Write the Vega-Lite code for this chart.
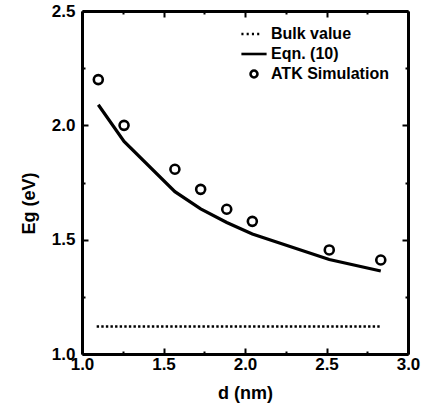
{
  "$schema": "https://vega.github.io/schema/vega-lite/v6.json",
  "width": 326,
  "height": 343,
  "autosize": {"type": "none"},
  "padding": {"left": 82, "top": 11, "right": 20, "bottom": 59},
  "background": "white",
  "config": {
    "view": {"stroke": null},
    "font": "Liberation Sans",
    "axis": {
      "domainColor": "black",
      "domainWidth": 3,
      "tickColor": "black",
      "tickWidth": 2,
      "grid": false,
      "labelFont": "Liberation Sans",
      "labelFontWeight": "bold",
      "labelFontSize": 17,
      "labelColor": "black",
      "labelFlush": false,
      "labelOverlap": false,
      "titleFont": "Liberation Sans",
      "titleFontWeight": "bold",
      "titleFontSize": 18,
      "titleColor": "black"
    },
    "legend": {
      "labelFont": "Liberation Sans",
      "labelFontWeight": "bold",
      "labelFontSize": 16,
      "labelColor": "black",
      "symbolStrokeWidth": 2.6,
      "symbolStrokeColor": "black",
      "symbolFillColor": "transparent",
      "symbolSize": 441,
      "rowPadding": 0,
      "labelOffset": 5
    }
  },
  "datasets": {
    "bulk": [
      {"d": 1.09, "Eg": 1.12, "series": "Bulk value"},
      {"d": 2.83, "Eg": 1.12, "series": "Bulk value"}
    ],
    "eqn": [
      {"d": 1.1, "Eg": 2.09, "series": "Eqn. (10)"},
      {"d": 1.258, "Eg": 1.93, "series": "Eqn. (10)"},
      {"d": 1.57, "Eg": 1.71, "series": "Eqn. (10)"},
      {"d": 1.728, "Eg": 1.635, "series": "Eqn. (10)"},
      {"d": 1.888, "Eg": 1.575, "series": "Eqn. (10)"},
      {"d": 2.045, "Eg": 1.525, "series": "Eqn. (10)"},
      {"d": 2.517, "Eg": 1.413, "series": "Eqn. (10)"},
      {"d": 2.833, "Eg": 1.363, "series": "Eqn. (10)"}
    ],
    "atk": [
      {"d": 1.1, "Eg": 2.2, "series": "ATK Simulation"},
      {"d": 1.258, "Eg": 2.0, "series": "ATK Simulation"},
      {"d": 1.57, "Eg": 1.808, "series": "ATK Simulation"},
      {"d": 1.728, "Eg": 1.72, "series": "ATK Simulation"},
      {"d": 1.888, "Eg": 1.633, "series": "ATK Simulation"},
      {"d": 2.045, "Eg": 1.58, "series": "ATK Simulation"},
      {"d": 2.517, "Eg": 1.455, "series": "ATK Simulation"},
      {"d": 2.833, "Eg": 1.411, "series": "ATK Simulation"}
    ]
  },
  "layer": [
    {
      "data": {"name": "bulk"},
      "mark": {"type": "line", "color": "black", "strokeWidth": 2.6, "strokeDash": [2.4, 2.2]},
      "encoding": {
        "x": {
          "field": "d", "type": "quantitative",
          "scale": {"domain": [1, 3], "nice": false, "zero": false},
          "axis": {
            "orient": "bottom",
            "title": "d (nm)",
            "values": [1, 1.25, 1.5, 1.75, 2, 2.25, 2.5, 2.75, 3],
            "format": ".1f",
            "labelExpr": "datum.value % 0.5 == 0 ? datum.label : ''",
            "tickSize": {"condition": {"test": "datum.value % 0.5 == 0", "value": -6}, "value": -3},
            "labelPadding": 8,
            "titlePadding": 9
          }
        },
        "y": {
          "field": "Eg", "type": "quantitative",
          "scale": {"domain": [1, 2.5], "nice": false, "zero": false},
          "axis": {
            "orient": "left",
            "title": "Eg (eV)",
            "values": [1, 1.25, 1.5, 1.75, 2, 2.25, 2.5],
            "format": ".1f",
            "labelExpr": "datum.value % 0.5 == 0 ? datum.label : ''",
            "tickSize": {"condition": {"test": "datum.value % 0.5 == 0", "value": -6}, "value": -3},
            "labelPadding": 13,
            "titlePadding": 13,
            "titleY": 192
          }
        }
      }
    },
    {
      "data": {"name": "eqn"},
      "mark": {"type": "line", "color": "black", "strokeWidth": 3.2},
      "encoding": {
        "x": {
          "field": "d", "type": "quantitative",
          "scale": {"domain": [1, 3], "nice": false, "zero": false},
          "axis": {
            "orient": "top",
            "title": null,
            "values": [1, 1.25, 1.5, 1.75, 2, 2.25, 2.5, 2.75, 3],
            "labels": false,
            "tickSize": {"condition": {"test": "datum.value % 0.5 == 0", "value": -6}, "value": -3}
          }
        },
        "y": {
          "field": "Eg", "type": "quantitative",
          "scale": {"domain": [1, 2.5], "nice": false, "zero": false},
          "axis": {
            "orient": "right",
            "title": null,
            "values": [1, 1.25, 1.5, 1.75, 2, 2.25, 2.5],
            "labels": false,
            "tickSize": {"condition": {"test": "datum.value % 0.5 == 0", "value": -6}, "value": -3}
          }
        }
      }
    },
    {
      "data": {"name": "atk"},
      "mark": {"type": "point", "filled": false, "color": "black", "strokeWidth": 2.6, "size": 744, "opacity": 1},
      "encoding": {
        "x": {"field": "d", "type": "quantitative", "axis": null},
        "y": {"field": "Eg", "type": "quantitative", "axis": null},
        "shape": {
          "field": "series", "type": "nominal",
          "scale": {
            "domain": ["Bulk value", "Eqn. (10)", "ATK Simulation"],
            "range": [
              "M-1.2,0H-1M-0.7,0H-0.5M-0.2,0H0M0.3,0H0.5",
              "M-1.2,0H1.2",
              "M-0.33,0A0.33,0.33 0 1,0 0.33,0A0.33,0.33 0 1,0 -0.33,0"
            ]
          },
          "legend": {
            "title": null,
            "orient": "none",
            "legendX": 160,
            "legendY": 11
          }
        }
      }
    }
  ],
  "resolve": {"axis": {"x": "independent", "y": "independent"}}
}
